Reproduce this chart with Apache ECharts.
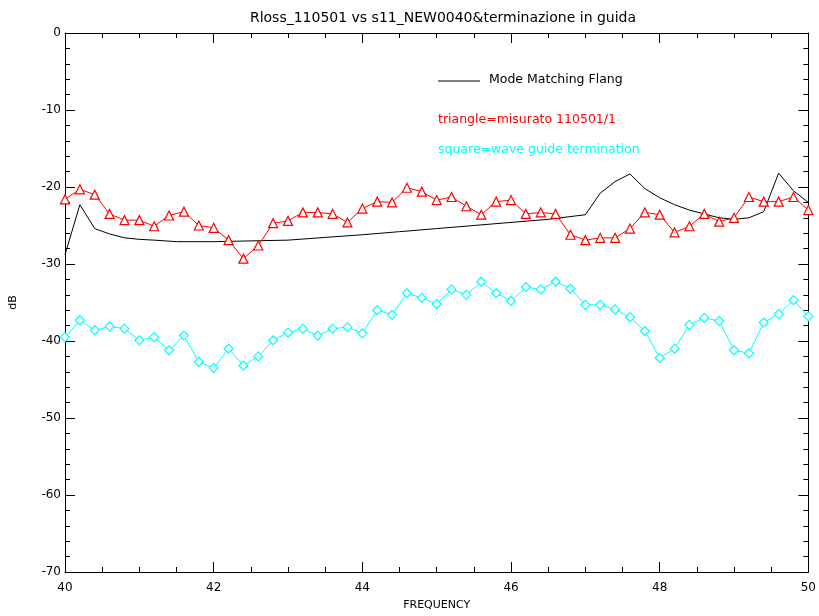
<!DOCTYPE html>
<html>
<head>
<meta charset="utf-8">
<script src="https://cdn.jsdelivr.net/npm/echarts@6/dist/echarts.min.js"></script>
<style>html,body{margin:0;padding:0;background:#fff}#c{width:819px;height:616px}</style>
</head>
<body>
<div id="c"></div>
<script>
const freqs = [40.0,40.2,40.4,40.6,40.8,41.0,41.2,41.4,41.6,41.8,42.0,42.2,42.4,42.6,42.8,43.0,43.2,43.4,43.6,43.8,44.0,44.2,44.4,44.6,44.8,45.0,45.2,45.4,45.6,45.8,46.0,46.2,46.4,46.6,46.8,47.0,47.2,47.4,47.6,47.8,48.0,48.2,48.4,48.6,48.8,49.0,49.2,49.4,49.6,49.8,50.0];
const measured = [-21.6,-20.3,-21.0,-23.5,-24.3,-24.3,-25.1,-23.7,-23.2,-25.0,-25.3,-26.9,-29.3,-27.6,-24.7,-24.4,-23.3,-23.3,-23.5,-24.6,-22.8,-21.9,-22.0,-20.1,-20.6,-21.7,-21.3,-22.5,-23.6,-21.9,-21.7,-23.5,-23.3,-23.5,-26.2,-26.9,-26.6,-26.6,-25.4,-23.3,-23.6,-25.9,-25.1,-23.5,-24.5,-24.0,-21.3,-21.9,-21.9,-21.3,-23.0];
const termination = [-39.5,-37.3,-38.6,-38.1,-38.4,-39.9,-39.5,-41.2,-39.3,-42.7,-43.5,-41.0,-43.2,-42.0,-39.9,-38.9,-38.4,-39.3,-38.4,-38.2,-39.0,-36.0,-36.6,-33.8,-34.4,-35.2,-33.3,-34.0,-32.3,-33.8,-34.8,-33.0,-33.3,-32.3,-33.2,-35.3,-35.3,-35.9,-36.9,-38.7,-42.2,-41.0,-37.9,-37.0,-37.4,-41.2,-41.6,-37.6,-36.5,-34.7,-36.8];
const modeFreq = [40.0,40.2,40.4,40.6,40.8,41.0,41.2,41.5,42.0,42.5,43.0,43.5,44.0,44.5,45.0,45.5,46.0,46.5,47.0,47.2,47.4,47.6,47.8,48.0,48.2,48.4,48.6,48.8,49.0,49.2,49.4,49.6,49.8,50.0];
const modeDb = [-28.8,-22.3,-25.4,-26.1,-26.6,-26.8,-26.9,-27.1,-27.1,-27.0,-26.9,-26.55,-26.2,-25.8,-25.4,-25.0,-24.6,-24.2,-23.6,-20.8,-19.3,-18.3,-20.2,-21.4,-22.3,-23.0,-23.5,-24.0,-24.2,-24.0,-23.2,-18.2,-20.5,-22.0];
const xTicks = [40,42,44,46,48,50];
const yTicks = [0,-10,-20,-30,-40,-50,-60,-70];

const FONT = 'DejaVu Sans';
const chart = echarts.init(document.getElementById('c'), null, {renderer:'canvas'});
const axisBase = {
  type:'value',
  axisLine:{show:true,onZero:false,lineStyle:{color:'#000',width:1}},
  splitLine:{show:false}
};
chart.setOption({
  animation:false,
  backgroundColor:'#fff',
  title:{text:'Rloss_110501 vs s11_NEW0040&terminazione in guida',left:438,top:6,textAlign:'center',
    textStyle:{fontFamily:FONT,fontSize:14,fontWeight:'normal',color:'#000'}},
  grid:{left:65,right:10,top:33,bottom:42},
  xAxis:[
    Object.assign({},axisBase,{min:40,max:50,interval:2,position:'bottom',
      axisTick:{show:true,inside:true,length:10,lineStyle:{color:'#000'}},
      minorTick:{show:true,splitNumber:4,length:5,lineStyle:{color:'#000'}},
      axisLabel:{color:'#000',fontFamily:FONT,fontSize:12,margin:10,
        formatter:v=>xTicks.includes(v)?String(v):''},
      name:'FREQUENCY',nameLocation:'middle',nameGap:28,
      nameTextStyle:{color:'#000',fontFamily:FONT,fontSize:11}}),
    Object.assign({},axisBase,{min:40,max:50,interval:2,position:'top',
      axisTick:{show:true,inside:true,length:10,lineStyle:{color:'#000'}},
      minorTick:{show:true,splitNumber:4,length:5,lineStyle:{color:'#000'}},
      axisLabel:{show:false}})
  ],
  yAxis:[
    Object.assign({},axisBase,{min:-70,max:0,interval:10,position:'left',
      axisTick:{show:true,inside:true,length:10,lineStyle:{color:'#000'}},
      minorTick:{show:true,splitNumber:5,length:5,lineStyle:{color:'#000'}},
      axisLabel:{color:'#000',fontFamily:FONT,fontSize:12,margin:4,
        formatter:v=>yTicks.includes(v)?String(v):''},
      name:'dB',nameLocation:'middle',nameGap:46,nameRotate:90,
      nameTextStyle:{color:'#000',fontFamily:FONT,fontSize:11}}),
    Object.assign({},axisBase,{min:-70,max:0,interval:10,position:'right',
      axisTick:{show:true,inside:true,length:10,lineStyle:{color:'#000'}},
      minorTick:{show:true,splitNumber:5,length:5,lineStyle:{color:'#000'}},
      axisLabel:{show:false}})
  ],
  series:[
    {type:'line',name:'Mode Matching Flang',data:modeFreq.map((f,i)=>[f,modeDb[i]]),
      showSymbol:false,symbol:'none',lineStyle:{color:'#000',width:1},itemStyle:{color:'#000'},z:3},
    {type:'line',name:'misurato',data:freqs.map((f,i)=>[f,measured[i]]),
      symbol:'triangle',symbolSize:9,showAllSymbol:true,
      lineStyle:{color:'#ff0000',width:1},itemStyle:{color:'#ffffff',borderColor:'#ff0000',borderWidth:1.2},z:4},
    {type:'line',name:'termination',data:freqs.map((f,i)=>[f,termination[i]]),
      symbol:'diamond',symbolSize:9,showAllSymbol:true,
      lineStyle:{color:'#00ffff',width:1},itemStyle:{color:'#ffffff',borderColor:'#00ffff',borderWidth:1.2},z:4}
  ],
  graphic:[
    {type:'line',shape:{x1:438,y1:81,x2:480,y2:81},style:{stroke:'#000',lineWidth:1}},
    {type:'text',left:489,top:73,style:{text:'Mode Matching Flang',fill:'#000',font:'12.5px "DejaVu Sans"'}},
    {type:'text',left:438,top:113,style:{text:'triangle=misurato 110501/1',fill:'#ff0000',font:'12.5px "DejaVu Sans"'}},
    {type:'text',left:438,top:143,style:{text:'square=wave guide termination',fill:'#00ffff',font:'12.5px "DejaVu Sans"'}}
  ]
});
</script>
</body>
</html>
